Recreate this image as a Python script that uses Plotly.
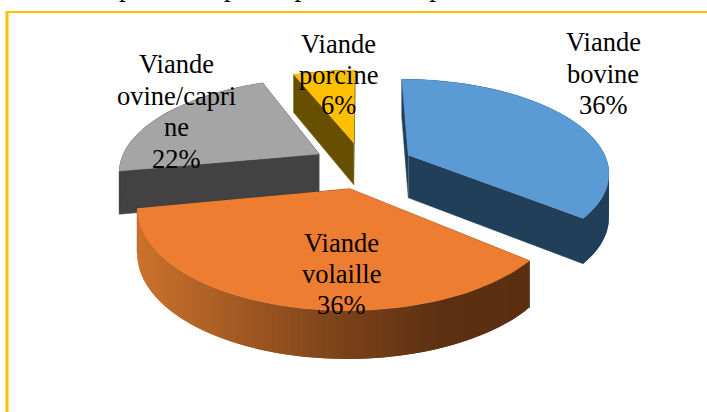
import math
import plotly.graph_objects as go

# --- data
categories = ["Viande bovine", "Viande volaille", "Viande ovine/caprine", "Viande porcine"]
values = [36, 36, 22, 6]
top_colors = ["#5B9BD5", "#ED7D31", "#A5A5A5", "#FFC000"]
side_colors = ["#223F59", None, "#424242", "#665000"]
label_lines = [["Viande", "bovine", "36%"], ["Viande", "volaille", "36%"],
               ["Viande", "ovine/capri", "ne", "22%"], ["Viande", "porcine", "6%"]]
label_pos = [(603, 42, 31.5), (341, 243, 31), (176, 64, 31.5), (338, 44, 30.5)]
caption = "Répartition&nbsp;&nbsp;par&nbsp;&nbsp;espèce&nbsp;&nbsp;de&nbsp;&nbsp;la&nbsp;&nbsp;production&nbsp;&nbsp;de&nbsp;&nbsp;viande"

# --- projection parameters for the perspective pie
CX, CY = 363, 165
A, B, K = 200, 92, 0.17
H = 43
EXPLODE = 0.255
DRAW_ORDER = [3, 2, 0, 1]


def project(X, Y):
    d = 1 + K * Y
    return CX + A * X / d, CY - B * Y / d, H * (1 - 0.1 * Y)


def rim_color(x):
    stops = [(136, (205, 114, 45)), (320, (130, 70, 27)), (440, (93, 48, 18)), (528, (90, 46, 16))]
    for (x0, c0), (x1, c1) in zip(stops, stops[1:]):
        if x <= x1:
            t = max(0, (x - x0) / (x1 - x0))
            return "rgb(%d,%d,%d)" % tuple(round(a + (b - a) * t) for a, b in zip(c0, c1))
    return "rgb(90,46,16)"


fig = go.Figure()


def poly(xs, ys, color, name, width=0.5):
    fig.add_trace(go.Scatter(x=xs, y=ys, mode="lines", fill="toself", fillcolor=color,
                             line=dict(color=color, width=width), hoverinfo="skip", name=name))


total = sum(values)
start = 0.0
spans = []
for v in values:
    spans.append((start, start + v / total * 360))
    start += v / total * 360

for i in DRAW_ORDER:
    a0, a1 = spans[i]
    mid = math.radians((a0 + a1) / 2)
    ox, oy = EXPLODE * math.sin(mid), EXPLODE * math.cos(mid)
    n = max(8, int((a1 - a0) / 1.5))
    angles = [a0 + (a1 - a0) * j / n for j in range(n + 1)]
    rim = [project(ox + math.sin(math.radians(t)), oy + math.cos(math.radians(t))) for t in angles]
    apex = project(ox, oy)
    side = side_colors[i]
    name = categories[i]
    for p in (rim[0], rim[-1]):
        poly([apex[0], p[0], p[0], apex[0]],
             [apex[1], p[1], p[1] + p[2], apex[1] + apex[2]], side or "#5C2F10", name)
    # each rim quad overlaps the next one so that no seams show between them
    for j in range(len(rim) - 1):
        p, q = rim[j], rim[min(j + 2, len(rim) - 1)]
        color = side or rim_color((rim[j][0] + rim[j + 1][0]) / 2)
        poly([p[0], q[0], q[0], p[0]], [p[1], q[1], q[1] + q[2], p[1] + p[2]], color, name, 0)
    poly([apex[0]] + [p[0] for p in rim], [apex[1]] + [p[1] for p in rim], top_colors[i], name)

# border
fig.add_shape(type="line", x0=7, x1=7, y0=11, y1=412, line=dict(color="#FFC000", width=3))
fig.add_shape(type="line", x0=6, x1=707, y0=12, y1=12, line=dict(color="#FFC000", width=2))

annotations = []
for lines, (x, y, dy) in zip(label_lines, label_pos):
    for j, line in enumerate(lines):
        annotations.append(dict(x=x, y=y + j * dy, text=line, showarrow=False, xanchor="center",
                                yanchor="middle", font=dict(family="Liberation Serif", size=26.5, color="#000")))
annotations.append(dict(xref="paper", yref="paper", x=87 / 707, y=1 + 13 / 412, text=caption, showarrow=False,
                        xanchor="left", yanchor="middle",
                        font=dict(family="Liberation Serif", size=27, color="#000")))

fig.update_layout(width=707, height=412, margin=dict(l=0, r=0, t=0, b=0), showlegend=False,
                  paper_bgcolor="white", plot_bgcolor="white", annotations=annotations,
                  xaxis=dict(range=[0, 707], visible=False, fixedrange=True),
                  yaxis=dict(range=[412, 0], visible=False, fixedrange=True))
fig.write_html("out.html", config={"displayModeBar": False},
               post_script="document.body.style.margin='0';document.documentElement.style.overflow='hidden';")
